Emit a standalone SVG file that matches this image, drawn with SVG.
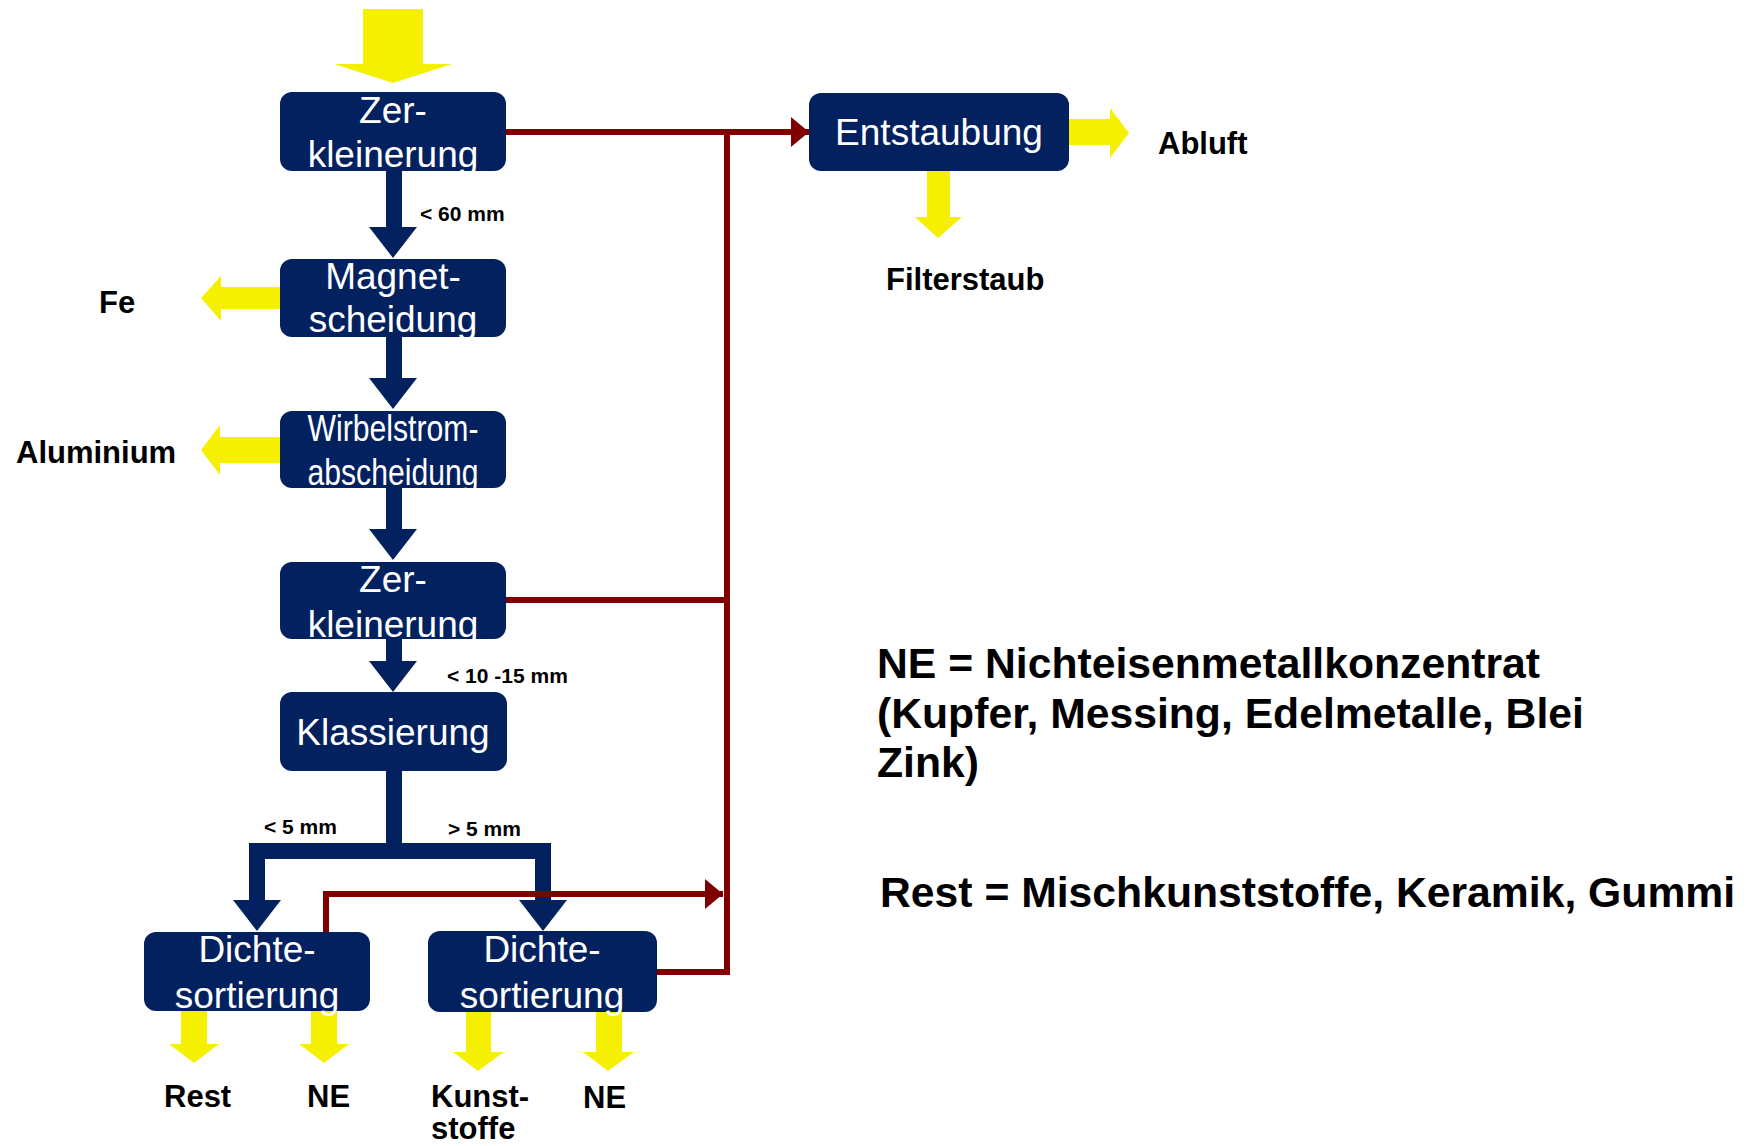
<svg xmlns="http://www.w3.org/2000/svg" width="1753" height="1146" viewBox="0 0 1753 1146">
<style>
.node rect{fill:#03215f}
.nt{font-family:"Liberation Sans",Arial,sans-serif;font-size:37px;fill:#fff;text-anchor:middle}
.lbl{font-family:"Liberation Sans",Arial,sans-serif;font-size:31px;font-weight:bold;fill:#000}
.sm{font-family:"Liberation Sans",Arial,sans-serif;font-size:21px;font-weight:bold;fill:#000}
.big{font-family:"Liberation Sans",Arial,sans-serif;font-size:42.7px;font-weight:bold;fill:#000}
.yel{fill:#f5f000}
.blue{fill:#03215f}
.red{fill:none;stroke:#800000;stroke-width:6}
</style>
<defs>
<marker id="ra" markerUnits="userSpaceOnUse" markerWidth="18" markerHeight="30" refX="18" refY="15" orient="auto">
<path d="M0,0 L18,15 L0,30 Z" fill="#800000"/>
</marker>
</defs>
<rect width="1753" height="1146" fill="#fff"/>

<g id="flows">
<polygon class="yel" points="363,9 423,9 423,64 452,64 393,83 334,64 363,64"/>
<polygon class="yel" points="280,287 221,287 221,276 201,298 221,321 221,309 280,309"/>
<polygon class="yel" points="280,437 220,437 220,425 201,450 220,475 220,463 280,463"/>
<polygon class="yel" points="1069,119 1110,119 1110,108 1129,133 1110,158 1110,145 1069,145"/>
<polygon class="yel" points="927,171 950,171 950,217 962,217 938,238 915,217 927,217"/>
<polygon class="yel" points="181,1011 207,1011 207,1044 219,1044 194,1063 169,1044 181,1044"/>
<polygon class="yel" points="311,1011 337,1011 337,1044 349,1044 324,1063 299,1044 311,1044"/>
<polygon class="yel" points="466,1012 491,1012 491,1052 504,1052 478,1071 453,1052 466,1052"/>
<polygon class="yel" points="596,1012 622,1012 622,1052 634,1052 608,1071 583,1052 596,1052"/>
</g>

<g id="connectors">
<polygon class="blue" points="386,171 402,171 402,227 417,227 393,258 369,227 386,227"/>
<polygon class="blue" points="386,337 402,337 402,378 417,378 393,409 369,378 386,378"/>
<polygon class="blue" points="386,488 402,488 402,529 417,529 393,560 369,529 386,529"/>
<polygon class="blue" points="386,639 402,639 402,661 417,661 393,692 369,661 386,661"/>
<path d="M394,771 V851 M257,900 V851 H543 V900" fill="none" stroke="#03215f" stroke-width="16" stroke-linejoin="miter"/>
<polygon class="blue" points="233,900 281,900 257,931"/>
<polygon class="blue" points="519,900 567,900 543,931"/>
<path class="red" d="M727,129 V975"/>
<path class="red" d="M506,132 H809" marker-end="url(#ra)"/>
<path class="red" d="M506,600 H730"/>
<path class="red" d="M657,972 H730"/>
<path class="red" d="M326,932 V894 H723" marker-end="url(#ra)"/>
</g>

<g id="n1" class="node"><rect x="280" y="92" width="226" height="79" rx="12"/><text class="nt" x="393" y="123">Zer-</text><text class="nt" x="393" y="167">kleinerung</text></g>
<g id="n2" class="node"><rect x="280" y="259" width="226" height="78" rx="12"/><text class="nt" x="393" y="289">Magnet-</text><text class="nt" x="393" y="332">scheidung</text></g>
<g id="n3" class="node"><rect x="280" y="411" width="226" height="77" rx="12"/><text class="nt" x="393" y="441" font-size="34" textLength="171" lengthAdjust="spacingAndGlyphs">Wirbelstrom-</text><text class="nt" x="393" y="485" font-size="34" textLength="171" lengthAdjust="spacingAndGlyphs">abscheidung</text></g>
<g id="n4" class="node"><rect x="280" y="562" width="226" height="77" rx="12"/><text class="nt" x="393" y="592">Zer-</text><text class="nt" x="393" y="637">kleinerung</text></g>
<g id="n5" class="node"><rect x="280" y="692" width="227" height="79" rx="12"/><text class="nt" x="393" y="745">Klassierung</text></g>
<g id="n6" class="node"><rect x="144" y="932" width="226" height="79" rx="12"/><text class="nt" x="257" y="962">Dichte-</text><text class="nt" x="257" y="1008">sortierung</text></g>
<g id="n7" class="node"><rect x="428" y="931" width="229" height="81" rx="12"/><text class="nt" x="542" y="962">Dichte-</text><text class="nt" x="542" y="1008">sortierung</text></g>
<g id="n8" class="node"><rect x="809" y="93" width="260" height="78" rx="12"/><text class="nt" x="939" y="145">Entstaubung</text></g>

<g id="labels">
<text class="sm" x="420" y="221">&lt; 60 mm</text>
<text class="sm" x="447" y="683">&lt; 10 -15 mm</text>
<text class="sm" x="264" y="834">&lt; 5 mm</text>
<text class="sm" x="448" y="836">&gt; 5 mm</text>
<text class="lbl" x="99" y="313">Fe</text>
<text class="lbl" x="16" y="463">Aluminium</text>
<text class="lbl" x="1158" y="154">Abluft</text>
<text class="lbl" x="886" y="290">Filterstaub</text>
<text class="lbl" x="164" y="1107">Rest</text>
<text class="lbl" x="307" y="1107">NE</text>
<text class="lbl" x="431" y="1107">Kunst-</text>
<text class="lbl" x="431" y="1139">stoffe</text>
<text class="lbl" x="583" y="1108">NE</text>
</g>

<g id="legend">
<text class="big" x="877" y="678">NE = Nichteisenmetallkonzentrat</text>
<text class="big" x="877" y="728">(Kupfer, Messing, Edelmetalle, Blei</text>
<text class="big" x="877" y="777">Zink)</text>
<text class="big" x="880" y="907">Rest = Mischkunststoffe, Keramik, Gummi</text>
</g>
</svg>
